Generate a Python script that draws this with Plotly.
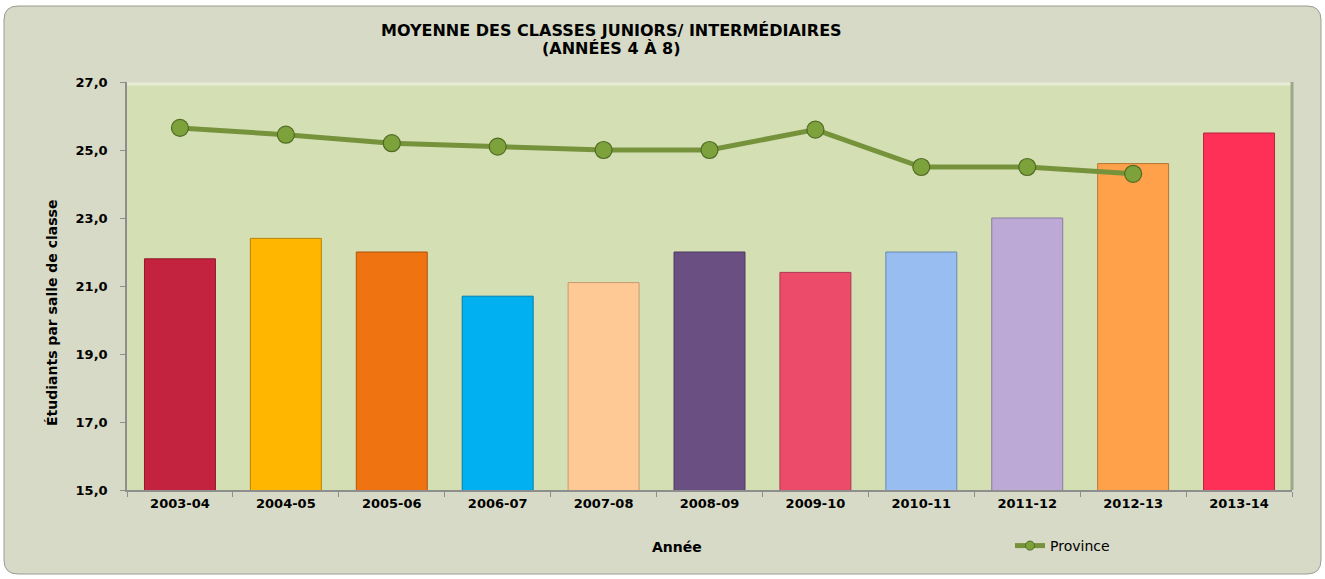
import plotly.graph_objects as go

years = ["2003-04", "2004-05", "2005-06", "2006-07", "2007-08", "2008-09",
         "2009-10", "2010-11", "2011-12", "2012-13", "2013-14"]
board_values = [21.8, 22.4, 22.0, 20.7, 21.1, 22.0, 21.4, 22.0, 23.0, 24.6, 25.5]
province_years = years[:10]
province_values = [25.65, 25.45, 25.2, 25.1, 25.0, 25.0, 25.6, 24.5, 24.5, 24.3]
bar_colors = ["#C4233F", "#FFB600", "#F07312", "#00B0F0", "#FFC996", "#6A4F82",
              "#EC4C6A", "#97BDF1", "#BDA9D5", "#FFA04A", "#FF3058"]
bar_edges = ["#8E1A2E", "#B88300", "#AE530D", "#007FAE", "#C89A6E", "#4B3860",
             "#AA3750", "#6C89AE", "#8A7B9B", "#B87435", "#B82340"]

W, H = 1325, 579
L, R, T, B = 127, 33, 82, 89
pw, ph = W - L - R, H - T - B

def px(x):
    return (x - L) / pw

def py(y):
    return (H - B - y) / ph

fig = go.Figure()
fig.add_trace(go.Bar(
    x=years, y=board_values, marker=dict(color=bar_colors, line=dict(color=bar_edges, width=1)),
    showlegend=False, hoverinfo="x+y"))
fig.add_trace(go.Scatter(
    x=province_years, y=province_values, mode="lines+markers", name="Province",
    line=dict(color="#76933C", width=5), showlegend=False,
    marker=dict(size=17, color="#7DA23C", line=dict(color="#4F6A22", width=1.2))))
# legend entry (no data) with the small marker seen in the reference legend
fig.add_trace(go.Scatter(
    x=[None], y=[None], mode="lines+markers", name="Province",
    line=dict(color="#76933C", width=5),
    marker=dict(size=9, color="#7DA23C", line=dict(color="#4F6A22", width=1))))

# rounded outer border
x0, x1, y0, y1 = 4, 1321, 6, 574
r = 14
path = (f"M {px(x0 + r)} {py(y0)} L {px(x1 - r)} {py(y0)} "
        f"Q {px(x1)} {py(y0)} {px(x1)} {py(y0 + r)} "
        f"L {px(x1)} {py(y1 - r)} Q {px(x1)} {py(y1)} {px(x1 - r)} {py(y1)} "
        f"L {px(x0 + r)} {py(y1)} Q {px(x0)} {py(y1)} {px(x0)} {py(y1 - r)} "
        f"L {px(x0)} {py(y0 + r)} Q {px(x0)} {py(y0)} {px(x0 + r)} {py(y0)} Z")
shapes = [
    dict(type="path", xref="paper", yref="paper", path=path, fillcolor="#D7DAC6",
         line=dict(color="#9A9C92", width=1), layer="below"),
    dict(type="rect", xref="paper", yref="paper", x0=0, x1=1, y0=0, y1=1,
         fillcolor="#D4DFB4", line=dict(width=0), layer="below"),
    dict(type="line", xref="paper", yref="paper", x0=0, x1=1, y0=0.995, y1=0.995,
         line=dict(color="#E8EDD8", width=3), layer="below"),
    dict(type="line", xref="paper", yref="paper", x0=1, x1=1, y0=0, y1=1,
         line=dict(color="#9FA78A", width=3), layer="below"),
]

font_main = "Verdana, DejaVu Sans, sans-serif"
annotations = [
    dict(text="<b>MOYENNE DES CLASSES JUNIORS/ INTERMÉDIAIRES</b>", x=px(611), y=py(30),
         xref="paper", yref="paper", showarrow=False, xanchor="center", yanchor="middle",
         font=dict(size=16)),
    dict(text="<b>(ANNÉES 4 À 8)</b>", x=px(611), y=py(48),
         xref="paper", yref="paper", showarrow=False, xanchor="center", yanchor="middle",
         font=dict(size=16)),
    dict(text="<b>Année</b>", x=px(677), y=py(547),
         xref="paper", yref="paper", showarrow=False, xanchor="center", yanchor="middle",
         font=dict(size=14)),
    dict(text="<b>Étudiants par salle de classe</b>", x=px(52), y=py(313), textangle=-90,
         xref="paper", yref="paper", showarrow=False, xanchor="center", yanchor="middle",
         font=dict(size=14)),
]

fig.update_layout(
    width=W, height=H,
    margin=dict(l=L, r=R, t=T, b=B),
    paper_bgcolor="white", plot_bgcolor="rgba(0,0,0,0)",
    separators=", ",
    font=dict(family=font_main, color="black", size=13),
    bargap=0.33,
    shapes=shapes,
    annotations=annotations,
    xaxis=dict(type="category", range=[-0.5, 10.5], showgrid=False, showline=True,
               linecolor="#8E8E8E", linewidth=1.5,
               ticks="outside", tickson="boundaries", ticklen=5, tickcolor="#8E8E8E",
               tickfont=dict(size=13), ticklabelstandoff=1),
    yaxis=dict(range=[15, 27], dtick=2, tick0=15, tickformat=".1f",
               showgrid=False, showline=True, linecolor="#8E8E8E", linewidth=1.5,
               ticks="outside", ticklen=5, tickcolor="#8E8E8E",
               tickfont=dict(size=13), ticklabelstandoff=10),
    legend=dict(x=px(1010), y=py(546), xanchor="left", yanchor="middle",
                bgcolor="rgba(0,0,0,0)", font=dict(size=14, family="DejaVu Sans"),
                itemwidth=30),
)
fig.update_xaxes(tickprefix="<b>", ticksuffix="</b>")
fig.update_yaxes(tickprefix="<b>", ticksuffix="</b>")
fig.write_html("out.html", config={"displayModeBar": False},
               post_script="document.body.style.margin='0';")
